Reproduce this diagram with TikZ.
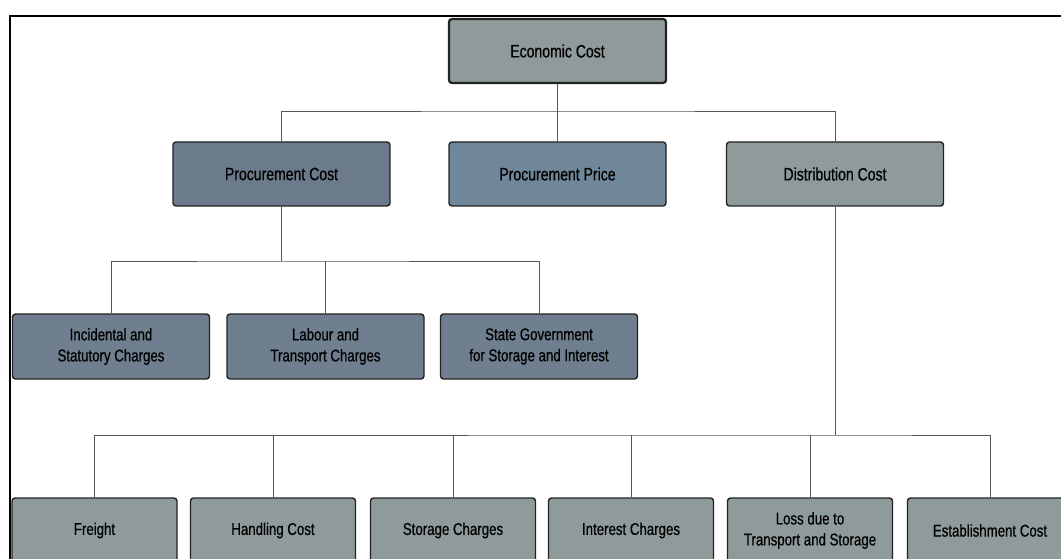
\documentclass[tikz,border=0pt]{standalone}
\usepackage{fontspec}
\setmainfont{Liberation Sans}[FakeStretch=0.78, FakeBold=0.6]
\definecolor{boxgray}{HTML}{8F9B9B}
\definecolor{slate}{HTML}{6B7B8B}
\definecolor{slateblue}{HTML}{70879A}
\definecolor{slatemid}{HTML}{6F7F8F}
\definecolor{linegray}{HTML}{555555}
\definecolor{edge}{HTML}{222222}
\tikzset{
  box/.style={draw=edge, line width=1.4pt, rounded corners=3pt, inner sep=0pt,
    align=center, text=black, font=\fontsize{17}{21}\selectfont},
  bigbox/.style={box, minimum width=217, minimum height=64, font=\fontsize{18}{21}\selectfont},
  midbox/.style={box, minimum width=197, minimum height=65},
  lowbox/.style={box, minimum width=165, minimum height=65, fill=boxgray},
  conn/.style={draw=linegray, line width=0.9pt}
}
\begin{document}
\begin{tikzpicture}[x=1pt,y=-1pt]
\fill[white] (0,0) rectangle (1061,559);
\clip (0,0) rectangle (1061,559);
\draw[black, line width=2.6pt] (10,559) -- (10,16) -- (1061,16);
% nodes
\node[bigbox, fill=boxgray, line width=2.2pt] (eco) at (557.5,51) {Economic Cost};
\node[bigbox, fill=slate] (pc) at (281.5,174) {Procurement Cost};
\node[bigbox, fill=slateblue] (pp) at (557.5,174) {Procurement Price};
\node[bigbox, fill=boxgray] (dc) at (835,174) {Distribution Cost};
\node[midbox, fill=slatemid] (inc) at (111,346.5) {Incidental and\\Statutory Charges};
\node[midbox, fill=slatemid] (lab) at (325.5,346.5) {Labour and\\Transport Charges};
\node[midbox, fill=slatemid] (st) at (539,346.5) {State Government\\for Storage and Interest};
\node[lowbox] (fr) at (94.5,530.5) {Freight};
\node[lowbox] (hc) at (273,530.5) {Handling Cost};
\node[lowbox] (sc) at (453,530.5) {Storage Charges};
\node[lowbox] (ic) at (631,530.5) {Interest Charges};
\node[lowbox] (lt) at (810,530.5) {Loss due to\\Transport and Storage};
\node[lowbox] (ec) at (990,530.5) {Establishment Cost};
% junctions
\coordinate (j1) at (557.5,111);
\coordinate (j2) at (281.5,261);
\coordinate (j3) at (835,435);
% connectors
\draw[conn] (eco.south) -- (j1);
\draw[conn] (pc.north) |- (j1) -| (dc.north);
\draw[conn] (j1) -- (pp.north);
\draw[conn] (pc.south) -- (j2);
\draw[conn] (inc.north) |- (j2) -| (st.north);
\draw[conn] (lab.north) -- (lab.north |- j2);
\draw[conn] (dc.south) -- (j3);
\draw[conn] (fr.north) |- (j3) -| (ec.north);
\draw[conn] (hc.north) -- (hc.north |- j3);
\draw[conn] (sc.north) -- (sc.north |- j3);
\draw[conn] (ic.north) -- (ic.north |- j3);
\draw[conn] (lt.north) -- (lt.north |- j3);
\end{tikzpicture}
\end{document}
